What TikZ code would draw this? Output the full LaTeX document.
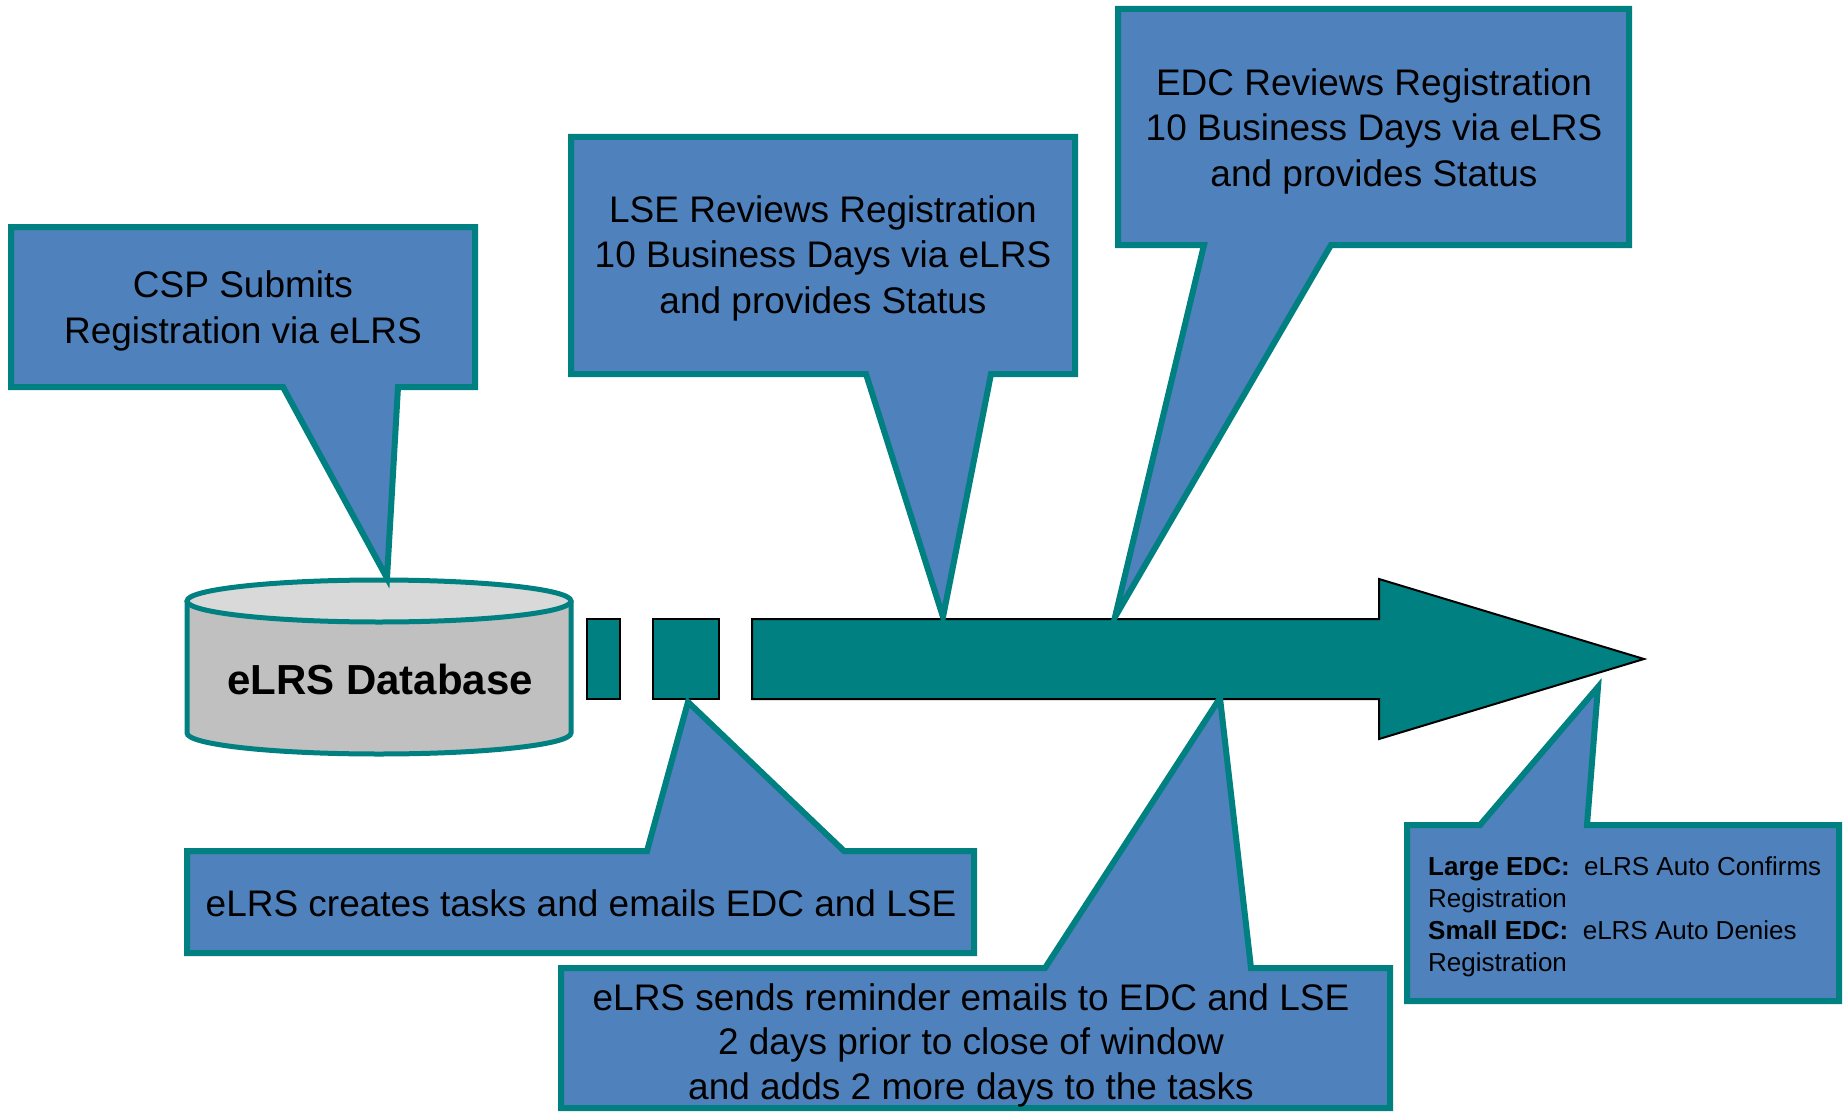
\documentclass[tikz,border=0pt]{standalone}
\usepackage{fontspec}
\setmainfont{Liberation Sans}
\definecolor{cfill}{RGB}{79,129,189}
\definecolor{tealc}{RGB}{0,128,128}
\definecolor{cylbody}{RGB}{192,192,192}
\definecolor{cyltop}{RGB}{217,217,217}
\begin{document}
\begin{tikzpicture}[x=1pt,y=-1pt,
  callout/.style={fill=cfill,draw=tealc,line width=6pt,line join=miter},
  bigtxt/.style={inner sep=0pt,align=center,font=\fontsize{37}{45.5}\selectfont},
  cyl/.style={draw=tealc,line width=5pt},
  flow/.style={fill=tealc,draw=black,line width=2pt,line join=miter}]
\useasboundingbox (0,0) rectangle (1845,1113);

% flow arrow and squares
\draw[flow] (587,619) rectangle (620,699);
\draw[flow] (653,619) rectangle (719,699);
\draw[flow] (752,619) -- (1379,619) -- (1379,579) -- (1644,659) -- (1379,739) -- (1379,699) -- (752,699) -- cycle;

% database cylinder
\fill[cylbody] (187,601) -- (187,733) arc[start angle=180,end angle=360,x radius=192pt,y radius=21pt] -- (571,601) -- cycle;
\draw[cyl] (187,601) -- (187,733) arc[start angle=180,end angle=360,x radius=192pt,y radius=21pt] -- (571,601);
\draw[cyl,fill=cyltop] (379,601) ellipse[x radius=192pt,y radius=21pt];
\node[inner sep=0pt,anchor=base,font=\fontsize{42}{48}\selectfont\bfseries] (db) at (380,694) {eLRS Database};

% callouts
\draw[callout] (11,227) -- (475,227) -- (475,387) -- (398,387) -- (387,578) -- (283,387) -- (11,387) -- cycle;
\node[bigtxt] (csp) at (243,311) {CSP Submits\\Registration via eLRS};

\draw[callout] (571,137) -- (1075,137) -- (1075,374) -- (991,374) -- (943,617) -- (866,374) -- (571,374) -- cycle;
\node[bigtxt] (lse) at (823,258) {LSE Reviews Registration\\10 Business Days via eLRS\\and provides Status};

\draw[callout] (1118,9) -- (1629,9) -- (1629,245) -- (1331,245) -- (1115,617) -- (1204,245) -- (1118,245) -- cycle;
\node[bigtxt] (edc) at (1374,131) {EDC Reviews Registration\\10 Business Days via eLRS\\and provides Status};

\draw[callout] (187,851) -- (647,851) -- (688,702) -- (844,851) -- (974,851) -- (974,953) -- (187,953) -- cycle;
\node[inner sep=0pt,anchor=base,font=\fontsize{37}{46}\selectfont] (tasks) at (581,916) {eLRS creates tasks and emails EDC and LSE};

\draw[callout] (561,968) -- (1045,968) -- (1220,698) -- (1251,968) -- (1390,968) -- (1390,1108) -- (561,1108) -- cycle;
\node[inner sep=0pt,align=center,font=\fontsize{37}{44.5}\selectfont] (remind) at (971,1045) {eLRS sends reminder emails to EDC and LSE\\2 days prior to close of window\\and adds 2 more days to the tasks};

\draw[callout] (1407,825) -- (1480,825) -- (1598,687) -- (1587,825) -- (1839,825) -- (1839,1001) -- (1407,1001) -- cycle;
\node[inner sep=0pt,align=left,anchor=north west,font=\fontsize{26}{32.3}\selectfont] (auto) at (1428,856) {{\bfseries Large EDC:}\ \ eLRS Auto Confirms\\Registration\\{\bfseries Small EDC:}\ \ eLRS Auto Denies\\Registration};
\end{tikzpicture}
\end{document}
